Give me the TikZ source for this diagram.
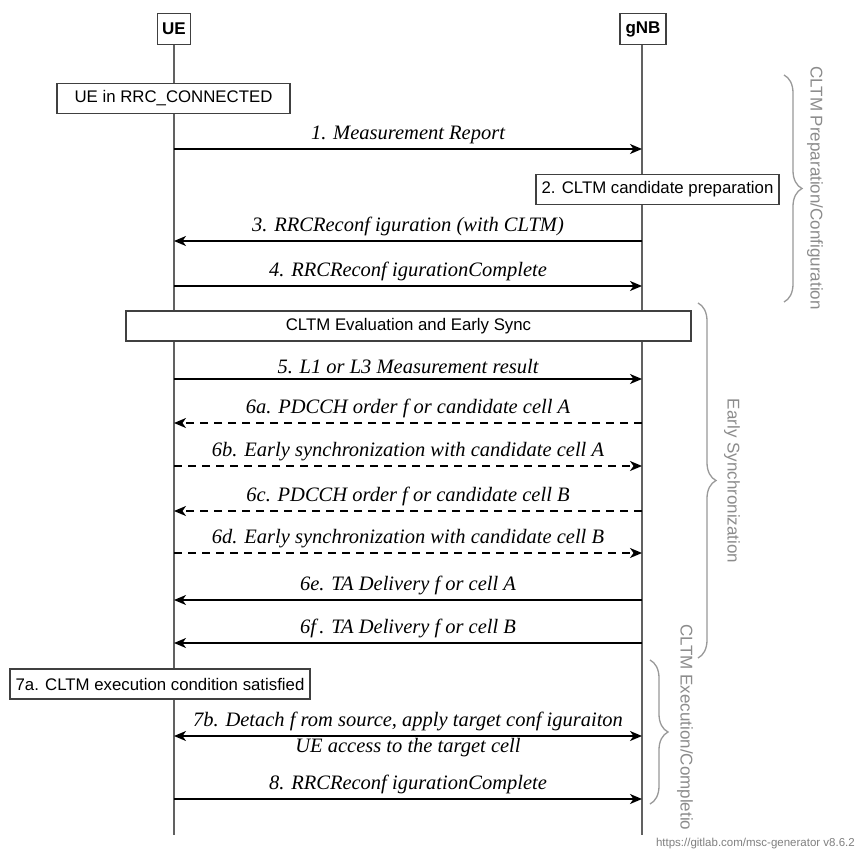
\documentclass[tikz,border=0pt]{standalone}
\usepackage{fontspec}
\setmainfont{Liberation Serif}
\setsansfont{Liberation Sans}
\usetikzlibrary{arrows.meta,decorations.pathreplacing}
\begin{document}
\begin{tikzpicture}[x=1pt,y=-1pt,
  life/.style={draw=black!62, line width=1.5pt},
  hdr/.style={draw=black!75, line width=1.3pt, fill=white, font=\sffamily\bfseries\fontsize{17}{20}\selectfont, inner sep=0pt, minimum height=31pt},
  actbox/.style={draw=black!75, line width=1.3pt, fill=white, font=\sffamily\fontsize{16.8}{19}\selectfont, minimum height=30pt, inner sep=0pt},
  msg/.style={line width=1.5pt, -{Stealth[length=12pt,width=10pt,inset=3.5pt]}},
  dmsg/.style={msg, dash pattern=on 8pt off 6pt},
  bmsg/.style={line width=1.5pt, {Stealth[length=12pt,width=10pt,inset=3.5pt]}-{Stealth[length=12pt,width=10pt,inset=3.5pt]}},
  lbl/.style={font=\itshape\fontsize{20.5}{24}\selectfont, inner sep=1pt, above=3pt},
  brc/.style={draw=black!40, line width=1.3pt, decorate, decoration={brace, amplitude=18pt}},
  brtxt/.style={text=black!45, font=\sffamily\fontsize{17}{20}\selectfont, rotate=-90, inner sep=0pt}
]
\useasboundingbox (0,0) rectangle (855,852);
\fill[white] (0,0) rectangle (855,852);

% headers
\node[hdr, minimum width=33pt] (UE) at (174,29) {UE};
\node[hdr, minimum width=46pt] (gNB) at (643,29) {gNB};
\coordinate (UEend) at (174,835);
\coordinate (gNBend) at (642,835);
\draw[life] (UE.south) -- (UEend);
\draw[life] (gNB.south -| gNBend) -- (gNBend);

% boxes
\node[actbox, minimum width=233pt] (conn) at (173.5,98.5) {UE in RRC\_CONNECTED};
\node[actbox, minimum width=243pt] (prep) at (657.5,189.5) {2. CLTM candidate preparation};
\node[actbox, minimum width=565pt] (eval) at (408.5,326) {CLTM Evaluation and Early Sync};
\node[actbox, minimum width=300pt] (exec) at (160,684) {7a. CLTM execution condition satisfied};

% message coordinates
\foreach \n/\y in {m1/149, m3/241, m4/286, m5/379, m6a/423, m6b/466, m6c/511, m6d/553, m6e/600, m6f/643, m7b/736, m8/799}{
  \coordinate (u\n) at (174,\y);
  \coordinate (g\n) at (642,\y);
}

\draw[msg] (um1) -- node[lbl] (l1) {1. Measurement Report} (gm1);
\draw[msg] (gm3) -- node[lbl] (l3) {3. RRCReconf iguration (with CLTM)} (um3);
\draw[msg] (um4) -- node[lbl] (l4) {4. RRCReconf igurationComplete} (gm4);
\draw[msg] (um5) -- node[lbl] (l5) {5. L1 or L3 Measurement result} (gm5);
\draw[dmsg] (gm6a) -- node[lbl] (l6a) {6a. PDCCH order f or candidate cell A} (um6a);
\draw[dmsg] (um6b) -- node[lbl] (l6b) {6b. Early synchronization with candidate cell A} (gm6b);
\draw[dmsg] (gm6c) -- node[lbl] (l6c) {6c. PDCCH order f or candidate cell B} (um6c);
\draw[dmsg] (um6d) -- node[lbl] (l6d) {6d. Early synchronization with candidate cell B} (gm6d);
\draw[msg] (gm6e) -- node[lbl] (l6e) {6e. TA Delivery f or cell A} (um6e);
\draw[msg] (gm6f) -- node[lbl] (l6f) {6f\,. TA Delivery f or cell B} (um6f);
\draw[bmsg] (um7b) -- node[lbl] (l7b) {7b. Detach f rom source, apply target conf iguraiton}
  node[lbl, above=0pt, below=4pt] (l7c) {UE access to the target cell} (gm7b);
\draw[msg] (um8) -- node[lbl] (l8) {8. RRCReconf igurationComplete} (gm8);

% braces
\coordinate (b1t) at (784,75);
\coordinate (b1b) at (784,302);
\coordinate (b2t) at (698,303);
\coordinate (b2b) at (698,658);
\coordinate (b3t) at (650,660);
\coordinate (b3b) at (650,804);
\draw[brc] (b1t) -- (b1b);
\draw[brc] (b2t) -- (b2b);
\draw[brc] (b3t) -- (b3b);
\node[brtxt] (t1) at (815,188) {CLTM Preparation/Configuration};
\node[brtxt] (t2) at (732,481) {Early Synchronization};
\node[brtxt] (t3) at (685,727.5) {CLTM Execution/Completio};

% footer
\node[anchor=east, text=black!50, font=\sffamily\fontsize{11.5}{13}\selectfont, inner sep=0pt] (foot) at (855,844) {https://gitlab.com/msc-generator v8.6.2};
\end{tikzpicture}
\end{document}
